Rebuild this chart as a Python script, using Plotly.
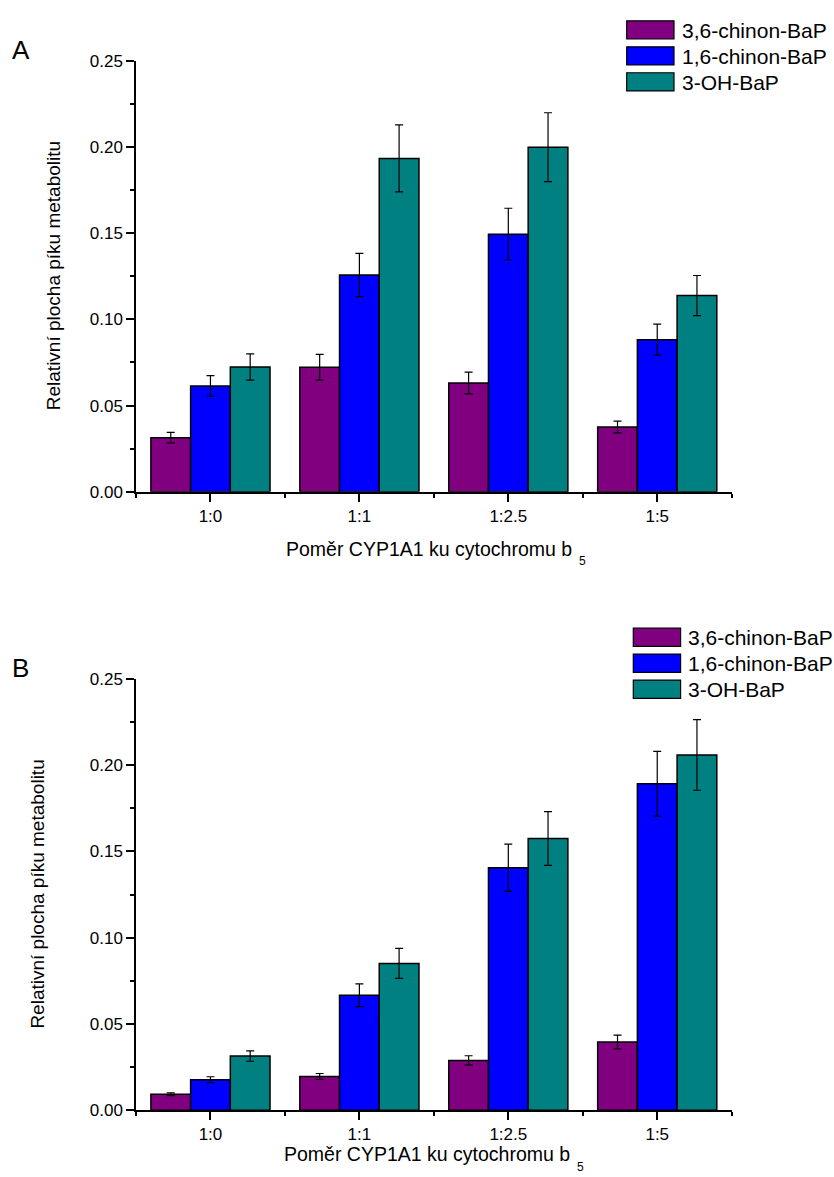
import plotly.graph_objects as go

# Categories (CYP1A1 : cytochrome b5 ratio) and metabolite series
categories = ["1:0", "1:1", "1:2.5", "1:5"]
series_names = ["3,6-chinon-BaP", "1,6-chinon-BaP", "3-OH-BaP"]
series_colors = ["#800080", "#0000FF", "#008080"]

# Panel A
a_chinon36 = [0.0314, 0.0722, 0.0631, 0.0376]
a_chinon36_err = [0.0030, 0.0075, 0.0063, 0.0034]
a_chinon16 = [0.0614, 0.1257, 0.1494, 0.0882]
a_chinon16_err = [0.0060, 0.0125, 0.0150, 0.0090]
a_oh3 = [0.0724, 0.1933, 0.1998, 0.1138]
a_oh3_err = [0.0076, 0.0194, 0.0200, 0.0116]

# Panel B
b_chinon36 = [0.0093, 0.0196, 0.0289, 0.0395]
b_chinon36_err = [0.0008, 0.0017, 0.0027, 0.0040]
b_chinon16 = [0.0177, 0.0667, 0.1406, 0.1893]
b_chinon16_err = [0.0017, 0.0066, 0.0137, 0.0188]
b_oh3 = [0.0314, 0.0851, 0.1575, 0.2060]
b_oh3_err = [0.0030, 0.0087, 0.0156, 0.0205]

y_title = "Relativní plocha píku metabolitu"
x_title = "Poměr CYP1A1 ku cytochromu b"
x_title_sub = "5"

W, H = 834, 1177
FONT = "Liberation Sans, Arial, sans-serif"


def px(x):
    return x / W


def py(y):
    return 1 - y / H


panels = [
    dict(vals=[a_chinon36, a_chinon16, a_oh3],
         errs=[a_chinon36_err, a_chinon16_err, a_oh3_err],
         xa="x", ya="y", top=52.5, bottom=490.7,
         letter="A", letter_y=41.5, ytitle_x=53, xtitle_y=549,
         sub_x=577, sub_dy=12,
         legend_x=626.7, legend_y=12.0),
    dict(vals=[b_chinon36, b_chinon16, b_oh3],
         errs=[b_chinon36_err, b_chinon16_err, b_oh3_err],
         xa="x2", ya="y2", top=681.0, bottom=1119.3,
         letter="B", letter_y=669.5, ytitle_x=38, xtitle_y=1163.5,
         sub_x=575, sub_dy=13,
         legend_x=633.3, legend_y=629.3),
]

x_left, x_right = 136.0, 731.7
positions = list(range(len(categories)))

fig = go.Figure()
shapes = []
annotations = []

for p in panels:
    for name, color, vals, errs in zip(series_names, series_colors, p["vals"], p["errs"]):
        fig.add_trace(go.Bar(
            x=positions, y=vals, name=name,
            xaxis=p["xa"], yaxis=p["ya"],
            marker=dict(color=color, line=dict(color="black", width=1.5)),
            error_y=dict(type="data", array=errs, color="black",
                         thickness=1.2, width=4),
            showlegend=False,
        ))

    # panel letter
    annotations.append(dict(
        text=p["letter"], x=px(20.5), y=py(p["letter_y"]), xref="paper", yref="paper",
        xanchor="center", yanchor="middle", showarrow=False,
        font=dict(family=FONT, size=26, color="black")))

    # y axis title
    annotations.append(dict(
        text=y_title, textangle=-90,
        x=px(p["ytitle_x"]), y=py((p["top"] + p["bottom"]) / 2),
        xref="paper", yref="paper", xanchor="center", yanchor="middle",
        showarrow=False, font=dict(family=FONT, size=19, color="black")))

    # x axis title with subscript
    annotations.append(dict(
        text=x_title, x=px(p["sub_x"] - 3), y=py(p["xtitle_y"]), xref="paper", yref="paper",
        xanchor="right", yanchor="middle", showarrow=False,
        font=dict(family=FONT, size=19.5, color="black")))
    annotations.append(dict(
        text=x_title_sub, x=px(p["sub_x"]), y=py(p["xtitle_y"] + p["sub_dy"]),
        xref="paper", yref="paper",
        xanchor="left", yanchor="middle", showarrow=False,
        font=dict(family=FONT, size=12, color="black")))

    # legend swatches and labels
    box_w, box_h, row = 47.3, 18.5, 26.4
    for i, (name, color) in enumerate(zip(series_names, series_colors)):
        y0 = p["legend_y"] + i * row
        shapes.append(dict(
            type="rect", xref="paper", yref="paper",
            x0=px(p["legend_x"]), x1=px(p["legend_x"] + box_w),
            y0=py(y0 + box_h), y1=py(y0),
            fillcolor=color, line=dict(color="black", width=1.2)))
        annotations.append(dict(
            text=name, x=px(p["legend_x"] + box_w + 5.5), y=py(y0 + box_h / 2 + 0.5),
            xref="paper", yref="paper", xanchor="left", yanchor="middle",
            showarrow=False, font=dict(family=FONT, size=21, color="black")))

common_x = dict(
    range=[-0.5, len(categories) - 0.5],
    tickmode="array", tickvals=positions, ticktext=categories,
    ticks="outside", ticklen=8, tickwidth=1.5, tickcolor="black",
    minor=dict(tickmode="array",
               tickvals=[i - 0.5 for i in range(len(categories) + 1)],
               ticks="outside", ticklen=4, tickwidth=1.5, tickcolor="black"),
    showline=True, linecolor="black", linewidth=1.5,
    showgrid=False, zeroline=False,
    tickfont=dict(family=FONT, size=17, color="black"),
)
common_y = dict(
    range=[0, 0.25], tickmode="linear", tick0=0, dtick=0.05, tickformat=".2f",
    ticks="outside", ticklen=8, tickwidth=1.5, tickcolor="black",
    minor=dict(tickmode="linear", tick0=0, dtick=0.025,
               ticks="outside", ticklen=4, tickwidth=1.5, tickcolor="black"),
    showline=True, linecolor="black", linewidth=1.5,
    showgrid=False, zeroline=False,
    tickfont=dict(family=FONT, size=17, color="black"),
)

pa, pb = panels
fig.update_layout(
    width=W, height=H,
    margin=dict(l=0, r=0, t=0, b=0),
    paper_bgcolor="white", plot_bgcolor="white",
    barmode="group", bargap=0.2, bargroupgap=0,
    showlegend=False,
    xaxis=dict(domain=[px(x_left), px(x_right)], anchor="y", **common_x),
    yaxis=dict(domain=[py(pa["bottom"]), py(pa["top"])], anchor="x", **common_y),
    xaxis2=dict(domain=[px(x_left), px(x_right)], anchor="y2", **common_x),
    yaxis2=dict(domain=[py(pb["bottom"]), py(pb["top"])], anchor="x2", **common_y),
    shapes=shapes,
    annotations=annotations,
)

fig.write_html("out.html")
